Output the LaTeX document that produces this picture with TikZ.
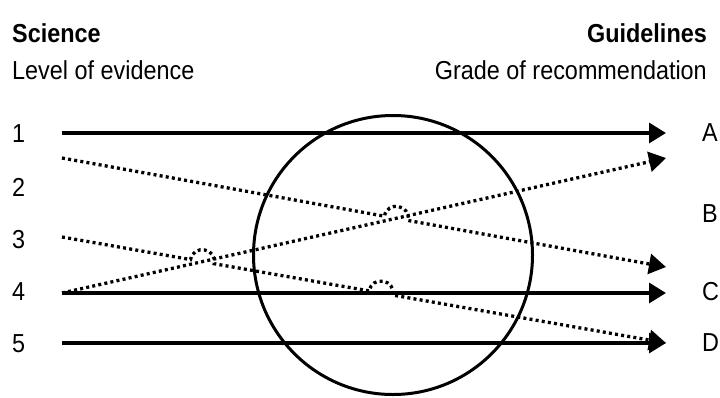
\documentclass[tikz,border=0pt]{standalone}
\usepackage{fontspec}
\setmainfont[FakeStretch=0.9]{Liberation Sans}
\usetikzlibrary{arrows.meta,calc,positioning}

\tikzset{
  lbl/.style={inner sep=0pt, font=\fontsize{26}{30}\selectfont},
  headtext/.style={inner sep=0pt, font=\fontsize{26}{30}\selectfont\bfseries},
  solidline/.style={line width=3.3pt, -{Triangle[length=17pt,width=20pt]}},
  dotline/.style={line width=3.3pt, dash pattern=on 3pt off 3.2pt,
                  -{Triangle[length=17pt,width=20pt]}},
  hump/.style={bend left=90, looseness=1.7},
}

\begin{document}
\begin{tikzpicture}[x=1pt,y=-1pt]
  \useasboundingbox (0,0) rectangle (720,397);

  % headings
  \node[headtext, anchor=base west] (sci) at (12,42) {Science};
  \node[lbl, anchor=base west] (loe) at (12,79) {Level of evidence};
  \node[headtext, anchor=base east] (gdl) at (707,42) {Guidelines};
  \node[lbl, anchor=base east] (gor) at (707,79) {Grade of recommendation};

  % levels and grades
  \node[lbl, anchor=west] (l1) at (12,134) {1};
  \node[lbl, anchor=west] (l2) at (12,187) {2};
  \node[lbl, anchor=west] (l3) at (12,240) {3};
  \node[lbl, anchor=west] (l4) at (12,292) {4};
  \node[lbl, anchor=west] (l5) at (12,344) {5};
  \node[lbl, anchor=west] (gA) at (702,133) {A};
  \node[lbl, anchor=west] (gB) at (702,214) {B};
  \node[lbl, anchor=west] (gC) at (702,292) {C};
  \node[lbl, anchor=west] (gD) at (702,343) {D};

  \node[draw, circle, line width=3pt, minimum size=279pt, inner sep=0pt] (ring) at (393,255) {};

  \coordinate (s1) at (62,133);
  \coordinate (s2) at (62,158);
  \coordinate (s3) at (62,237);
  \coordinate (s4) at (62,293);
  \coordinate (s5) at (62,343);
  \coordinate (eA) at (666,133);
  \coordinate (eAB) at (666,158);
  \coordinate (eBC) at (666,267);
  \coordinate (eC) at (666,293);
  \coordinate (eD) at (666,343);

  \coordinate (x1) at (intersection of s2--eBC and s4--eAB);
  \coordinate (x2) at (intersection of s3--eD and s4--eAB);
  \coordinate (x3) at (intersection of s3--eD and s4--eC);

  \draw[solidline] (s1) -- (eA);
  \draw[solidline] (s4) -- (eC);
  \draw[solidline] (s5) -- (eD);

  \draw[dotline] (s4) -- (eAB);
  % jump over the crossings
  \draw[dotline] (s2) -- ($(x1)!12pt!(s2)$) to[hump] ($(x1)!12pt!(eBC)$) -- (eBC);
  \draw[dotline] (s3) -- ($(x2)!12pt!(s3)$) to[hump] ($(x2)!12pt!(eD)$)
    -- ($(x3)!12pt!(s3)$) to[hump] ($(x3)!12pt!(eD)$) -- (eD);
\end{tikzpicture}
\end{document}
